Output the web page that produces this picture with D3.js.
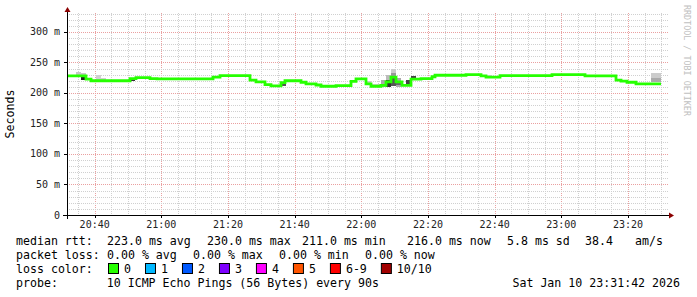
<!DOCTYPE html>
<html>
<head>
  <meta charset="UTF-8">
  <title>Smokeping latency</title>
  <style>
    body { margin: 0; background: #fff; }
    svg text { font-family: "DejaVu Sans Mono", monospace; white-space: pre; }
    .grid-minor { stroke: #d0d0d0; stroke-width: 1; stroke-dasharray: 1,1; shape-rendering: crispEdges; }
    .grid-major { stroke: #eaa0a0; stroke-width: 1; stroke-dasharray: 1,1; shape-rendering: crispEdges; }
    .tick-label { font-size: 10px; fill: #222; }
    .legend { font-size: 11.6px; fill: #000; }
  </style>
</head>
<body>
<div id="chart"></div>
<script src="https://d3js.org/d3.v7.min.js"></script>
<script>
  // median rtt, step start times and values (ms)
  const stepTimes = ["20:31:42","20:37:24","20:38:54","20:50:36","20:52:24","20:56:36","20:58:42",
    "21:15:30","21:17:36","21:26:36","21:28:24","21:31:06","21:32:54","21:35:54","21:37:06",
    "21:41:54","21:43:24","21:46:24","21:47:54","21:52:24","21:56:54","21:58:24","22:01:24",
    "22:02:54","22:05:54","22:07:24","22:08:54","22:10:24","22:12:12","22:14:54","22:17:54",
    "22:21:12","22:22:06","22:31:24","22:35:54","22:37:24","22:41:36","22:57:12","23:07:06",
    "23:16:24","23:17:54","23:19:42","23:22:24"];
  const stepValues = [228,222.5,220,223.5,225,223.5,223,
    226,228.5,221,218,213.5,211.5,217,220,
    217.5,215,213,211,212,219,223,215,
    211,212.5,218,226,218,212.5,222.5,223.5,
    226.5,229,230,228,226,228.5,230,228,
    221,219.5,217.5,215];
  const lastTime = "23:29:54";

  // smoke (ping spread) blocks
  const smokeFrom = ["20:34:24","20:35:54","20:35:54","20:40:24","20:41:54","20:50:36","21:16:06",
    "21:35:54","22:01:24","22:02:54","22:05:54","22:07:24","22:07:24","22:08:54","22:08:54","22:08:54",
    "22:10:24","22:10:24","22:13:24","22:14:54","22:35:54","22:37:24","23:26:54","23:26:54"];
  const smokeTo = ["20:35:54","20:37:24","20:37:24","20:41:54","20:43:24","20:52:06","21:17:36",
    "21:37:24","22:02:54","22:05:54","22:07:24","22:08:54","22:08:54","22:10:24","22:10:24","22:10:24",
    "22:11:54","22:11:54","22:14:54","22:16:24","22:37:24","22:39:12","23:29:54","23:29:54"];
  const smokeLo = [228,228,222,221,221,220,224,
    211,213,210,209,221,210,232,226,212,
    209,213,212,222,226,225,221,218];
  const smokeHi = [235,232,226,229,225,224,228,
    217,219,215,221,230,221,240,232,226,
    224,218,222,228,230,229,232,225];
  const smokeShade = ["#c8c8c8","#c8c8c8","#222","#d0d0d0","#d0d0d0","#333","#222",
    "#555","#ccc","#ccc","#aaa","#bbb","#333","#ccc","#999","#555",
    "#aaa","#666","#444","#444","#555","#ccc","#ccc","#aaa"];

  const yTicks = [0,50,100,150,200,250,300];
  const lossLabels = ["0","1","2","3","4","5","6-9","10/10"];
  const lossColors = ["#26ff00","#00b8ff","#0059ff","#7e00ff","#ff00ff","#ff5500","#ff0000","#a10000"];
  const rttItems = ["median rtt:","223.0 ms avg","230.0 ms max","211.0 ms min","216.0 ms now","5.8 ms sd","38.4","am/s"];
  const rttX = [16,107,207,302,407,507,585,635];
  const lossItems = ["packet loss:","0.00 % avg","0.00 % max","0.00 % min","0.00 % now"];
  const lossX = [16,107,193,279,365];
  const probeText = "probe:       10 ICMP Echo Pings (56 Bytes) every 90s";
  const stamp = "Sat Jan 10 23:31:42 2026";

  const W = 697, H = 297;
  const pL = 67, pR = 667, pT = 13, pB = 215;
  const parse = s => d3.timeParse("%Y-%m-%d %H:%M:%S")("2026-01-10 " + s);

  const svg = d3.select("#chart").append("svg").attr("width", W).attr("height", H);
  svg.append("rect").attr("width", W).attr("height", H).attr("fill", "#fff");

  const x = d3.scaleTime().domain([parse("20:31:42"), parse("23:31:42")]).range([pL, pR]);
  const y = d3.scaleLinear().domain([0, 331]).range([pB, pT]);

  // grid
  const g = svg.append("g");
  x.ticks(d3.timeMinute.every(5)).forEach(t => {
    const major = t.getMinutes() % 20 === 0;
    g.append("line").attr("class", major ? "grid-major" : "grid-minor")
      .attr("x1", Math.round(x(t)) + 0.5).attr("x2", Math.round(x(t)) + 0.5)
      .attr("y1", pT).attr("y2", pB);
  });
  d3.range(10, 331, 10).forEach(v => {
    g.append("line").attr("class", v % 50 === 0 ? "grid-major" : "grid-minor")
      .attr("x1", pL).attr("x2", pR + 2)
      .attr("y1", Math.round(y(v)) + 0.5).attr("y2", Math.round(y(v)) + 0.5);
  });

  // smoke
  svg.append("g").selectAll("rect").data(smokeFrom.map((f, i) => i)).join("rect")
    .attr("x", i => x(parse(smokeFrom[i])))
    .attr("width", i => x(parse(smokeTo[i])) - x(parse(smokeFrom[i])))
    .attr("y", i => y(smokeHi[i]))
    .attr("height", i => y(smokeLo[i]) - y(smokeHi[i]))
    .attr("fill", i => smokeShade[i])
    .attr("shape-rendering", "crispEdges");

  // median line
  const pts = stepTimes.map((t, i) => [parse(t), stepValues[i]]);
  pts.push([parse(lastTime), stepValues[stepValues.length - 1]]);
  const line = d3.line().x(d => x(d[0])).y(d => y(d[1])).curve(d3.curveStepAfter);
  svg.append("path").datum(pts).attr("d", line)
    .attr("fill", "none").attr("stroke", "#26ff00").attr("stroke-width", 2.8);

  // axes
  svg.append("line").attr("x1", pL - 4).attr("x2", pR + 2).attr("y1", pB + 0.5).attr("y2", pB + 0.5)
    .attr("stroke", "#000").attr("stroke-width", 1);
  svg.append("line").attr("x1", pL + 0.5).attr("x2", pL + 0.5).attr("y1", pB + 4).attr("y2", pT - 2)
    .attr("stroke", "#000").attr("stroke-width", 1);
  svg.append("path").attr("d", `M${pR + 2},${pB - 2.5}L${pR + 7},${pB + 0.5}L${pR + 2},${pB + 3.5}Z`)
    .attr("fill", "#8b0000");
  svg.append("path").attr("d", `M${pL - 2.5},${pT - 1}L${pL + 0.5},${pT - 6}L${pL + 3.5},${pT - 1}Z`)
    .attr("fill", "#8b0000");

  // x tick labels
  x.ticks(d3.timeMinute.every(20)).forEach(t => {
    svg.append("line").attr("x1", Math.round(x(t)) + 0.5).attr("x2", Math.round(x(t)) + 0.5)
      .attr("y1", pB).attr("y2", pB + 3).attr("stroke", "#000");
    svg.append("text").attr("class", "tick-label").attr("x", x(t)).attr("y", 228)
      .attr("text-anchor", "middle").text(d3.timeFormat("%H:%M")(t));
  });
  // y tick labels
  yTicks.forEach(v => {
    svg.append("line").attr("x1", pL - 3).attr("x2", pL).attr("y1", Math.round(y(v)) + 0.5)
      .attr("y2", Math.round(y(v)) + 0.5).attr("stroke", "#000");
    svg.append("text").attr("class", "tick-label").attr("x", 60).attr("y", y(v) + 3.5)
      .attr("text-anchor", "end").text(v === 0 ? "0" : v + " m");
  });

  svg.append("text").attr("class", "legend")
    .attr("transform", `translate(14,${(pT + pB) / 2}) rotate(-90)`)
    .attr("text-anchor", "middle").text("Seconds");

  svg.append("text").attr("transform", "translate(684,5) rotate(90)")
    .style("font-size", "8.4px").attr("fill", "#c0c0c0").text("RRDTOOL / TOBI OETIKER");

  // legend
  rttItems.forEach((s, i) => {
    svg.append("text").attr("class", "legend").attr("x", rttX[i]).attr("y", 245).text(s);
  });
  lossItems.forEach((s, i) => {
    svg.append("text").attr("class", "legend").attr("x", lossX[i]).attr("y", 259).text(s);
  });
  svg.append("text").attr("class", "legend").attr("x", 16).attr("y", 273).text("loss color:");
  svg.append("text").attr("class", "legend").attr("x", 16).attr("y", 287).text(probeText);
  svg.append("text").attr("class", "legend").attr("x", 680).attr("y", 287)
    .attr("text-anchor", "end").text(stamp);

  let bx = 108;
  lossLabels.forEach((lab, i) => {
    svg.append("rect").attr("x", bx + 0.5).attr("y", 263.5).attr("width", 10).attr("height", 10)
      .attr("fill", lossColors[i]).attr("stroke", "#000");
    const t = svg.append("text").attr("class", "legend").attr("x", bx + 16).attr("y", 273).text(lab);
    bx = bx + 16 + t.node().getComputedTextLength() + 14;
  });
</script>
</body>
</html>
